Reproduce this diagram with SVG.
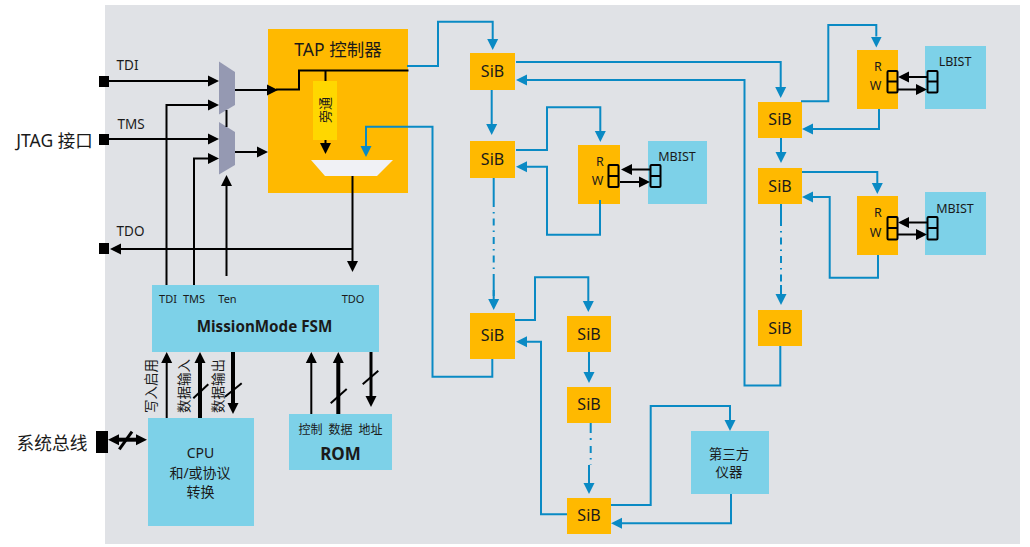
<svg xmlns="http://www.w3.org/2000/svg" width="1030" height="547" viewBox="0 0 1030 547">
  <defs>
    <style>
      text { font-family: "Noto Sans", "Noto Sans CJK SC", sans-serif; fill: #1a1a1a; text-anchor: middle; dominant-baseline: central; }
      .sib { fill: #FFB900; }
      .cyan { fill: #7DD1E8; }
      .mux { fill: #9599B2; }
      .port { stroke: #000; stroke-width: 2; }
      .b { fill: none; stroke: #0A8AC4; stroke-width: 2; }
      .k { fill: none; stroke: #000; stroke-width: 2; }
      .k3 { fill: none; stroke: #000; stroke-width: 3; }
      .k4 { fill: none; stroke: #000; stroke-width: 4; }
      .ab { marker-end: url(#arrowBlue); }
      .ak { marker-end: url(#arrowBlack); }
      .sl { font-size: 16px; }
      .pin { font-size: 11px; }
      .sig { font-size: 13.5px; }
      .rw { font-size: 12.5px; }
    </style>
    <marker id="arrowBlue" markerUnits="userSpaceOnUse" markerWidth="12" markerHeight="12" refX="0" refY="6" orient="auto"><path d="M0,0.5 L11,6 L0,11.5Z" fill="#0A8AC4"/></marker>
    <marker id="arrowBlack" markerUnits="userSpaceOnUse" markerWidth="12" markerHeight="12" refX="0" refY="6" orient="auto"><path d="M0,0.5 L11,6 L0,11.5Z" fill="#000"/></marker>
    <marker id="arrowBothEnds" markerUnits="userSpaceOnUse" markerWidth="12" markerHeight="12" refX="0" refY="6" orient="auto-start-reverse"><path d="M0,0.5 L11,6 L0,11.5Z" fill="#000"/></marker>
  </defs>

  <rect id="board" x="105" y="5" width="915" height="539" fill="#E0E2E6"/>

  <g id="jtag-pins">
    <text x="54.500" y="140" font-size="17.500">JTAG 接口</text>
    <rect x="99" y="76" width="10" height="11"/>
    <rect x="99" y="134" width="10" height="11"/>
    <rect x="99" y="243" width="10" height="11"/>
    <text x="127.500" y="65" class="sig">TDI</text>
    <text x="131" y="124" class="sig">TMS</text>
    <text x="130.500" y="231" class="sig">TDO</text>
  </g>

  <g id="tap-controller">
    <rect x="268" y="29" width="140" height="164" fill="#FFB900"/>
    <text x="338" y="49" font-size="17.500">TAP 控制器</text>
    <rect x="313" y="81" width="24" height="59" fill="#FFD700"/>
    <text transform="rotate(-90 325 110)" x="325" y="110" font-size="13">旁通</text>
    <polygon points="311,160 393,160 377,176 325,176" fill="#F0F1F5"/>
  </g>

  <g id="mux-upper"><polygon class="mux" points="219,61.500 235,72 235,105 219,114.500"/></g>
  <g id="mux-lower"><polygon class="mux" points="219,122 235,132 235,165 219,174.500"/></g>

  <g id="mission-fsm">
    <rect class="cyan" x="152" y="285" width="227" height="67"/>
    <text x="168" y="298.500" class="pin">TDI</text>
    <text x="194" y="298.500" class="pin">TMS</text>
    <text x="227.500" y="298.500" class="pin">Ten</text>
    <text x="353" y="298.500" class="pin">TDO</text>
    <text x="264.500" y="326" font-size="15.200" font-weight="700">MissionMode FSM</text>
  </g>

  <g id="cpu">
    <rect class="cyan" x="148" y="418" width="106" height="108"/>
    <text x="200.500" y="452" font-size="14">CPU</text>
    <text x="200" y="472" font-size="14">和/或协议</text>
    <text x="200.500" y="491" font-size="14">转换</text>
  </g>

  <g id="rom">
    <rect class="cyan" x="289" y="414" width="103" height="56"/>
    <text x="310.500" y="429" font-size="12">控制</text>
    <text x="340.500" y="429" font-size="12">数据</text>
    <text x="370.500" y="429" font-size="12">地址</text>
    <text x="340.500" y="453.500" font-size="17" font-weight="700">ROM</text>
  </g>

  <g id="bus-labels">
    <text transform="rotate(-90 151 386)" x="151" y="386" font-size="13.500">写入启用</text>
    <text transform="rotate(-90 184 386)" x="184" y="386" font-size="13.500">数据输入</text>
    <text transform="rotate(-90 218 386)" x="218" y="386" font-size="13.500">数据输出</text>
  </g>

  <g id="system-bus">
    <text x="52" y="442.500" font-size="17.700">系统总线</text>
    <rect x="96" y="431" width="12" height="22"/>
  </g>

  <g id="sib-1"><rect class="sib" x="470" y="53" width="45" height="37"/><text x="492.500" y="71" class="sl">SiB</text></g>
  <g id="sib-2"><rect class="sib" x="470" y="141" width="45" height="37"/><text x="492.500" y="159" class="sl">SiB</text></g>
  <g id="sib-3"><rect class="sib" x="470" y="313" width="45" height="46"/><text x="492.500" y="335" class="sl">SiB</text></g>
  <g id="sib-4"><rect class="sib" x="567" y="316" width="44" height="36"/><text x="589" y="334" class="sl">SiB</text></g>
  <g id="sib-5"><rect class="sib" x="567" y="387" width="44" height="36"/><text x="589" y="404" class="sl">SiB</text></g>
  <g id="sib-6"><rect class="sib" x="567" y="498" width="44" height="36"/><text x="589" y="515" class="sl">SiB</text></g>
  <g id="sib-7"><rect class="sib" x="758" y="102" width="44" height="36"/><text x="780" y="119" class="sl">SiB</text></g>
  <g id="sib-8"><rect class="sib" x="758" y="168" width="44" height="36"/><text x="780" y="186" class="sl">SiB</text></g>
  <g id="sib-9"><rect class="sib" x="758" y="310" width="44" height="36"/><text x="780" y="328" class="sl">SiB</text></g>

  <g id="rw-1">
    <rect class="sib" x="578" y="145" width="42" height="59"/>
    <text x="600" y="161" class="rw">R</text><text x="597.500" y="180" class="rw">W</text>
    <rect class="sib port" x="608.500" y="165" width="10" height="22" rx="1"/><path class="k" d="M608.500,176H618.500"/>
  </g>
  <g id="mbist-1">
    <rect class="cyan" x="648" y="141" width="59" height="63"/>
    <text x="677" y="156" class="rw">MBIST</text>
    <rect class="cyan port" x="650.500" y="165" width="10" height="22" rx="1"/><path class="k" d="M650.500,176H660.500"/>
  </g>
  <g id="rw-2">
    <rect class="sib" x="857" y="50" width="41" height="59"/>
    <text x="878" y="66.500" class="rw">R</text><text x="875.500" y="85.500" class="rw">W</text>
    <rect class="sib port" x="887.500" y="71" width="10" height="21.500" rx="1"/><path class="k" d="M887.500,81.500H897.500"/>
  </g>
  <g id="lbist">
    <rect class="cyan" x="925" y="46" width="61" height="63"/>
    <text x="955" y="61" class="rw">LBIST</text>
    <rect class="cyan port" x="927.500" y="71" width="10" height="21.500" rx="1"/><path class="k" d="M927.500,81.500H937.500"/>
  </g>
  <g id="rw-3">
    <rect class="sib" x="857" y="196" width="41" height="59"/>
    <text x="878" y="212.500" class="rw">R</text><text x="875.500" y="232" class="rw">W</text>
    <rect class="sib port" x="887.500" y="217" width="10" height="22.500" rx="1"/><path class="k" d="M887.500,228H897.500"/>
  </g>
  <g id="mbist-2">
    <rect class="cyan" x="925" y="192" width="61" height="63"/>
    <text x="955" y="208" class="rw">MBIST</text>
    <rect class="cyan port" x="927.500" y="217" width="10" height="22.500" rx="1"/><path class="k" d="M927.500,228H937.500"/>
  </g>
  <g id="third-party">
    <rect class="cyan" x="691" y="431" width="78" height="63"/>
    <text x="729" y="454" font-size="13.500">第三方</text>
    <text x="729" y="472" font-size="13.500">仪器</text>
  </g>

  <g id="connectors">
    <!-- JTAG inputs and mux selects -->
    <path class="k ak" d="M109,81H208"/>
    <path class="k ak" d="M166.500,285V105H208"/>
    <path class="k ak" d="M109,139H208"/>
    <path class="k ak" d="M194,285V158.500H208"/>
    <path class="k ak" d="M226.500,276V186"/>
    <path class="k" d="M226.500,110V127"/>
    <path class="k ak" d="M235,90H267"/>
    <path class="k" d="M276,89.500H299V70.500H408.500"/>
    <path class="k ak" d="M235,152H257"/>
    <!-- Bypass path and TDO -->
    <path class="k" d="M325.500,70.500V81"/>
    <path class="k ak" d="M325.500,140V143"/>
    <path class="k ak" d="M352.500,176V261"/>
    <path class="k ak" d="M352.500,249H121"/>
    <!-- CPU and ROM buses -->
    <path class="k ak" d="M166.700,418V363"/>
    <path class="k4 ak" d="M200,418V363"/>
    <path class="k" d="M193.300,398.300L208.300,384.300"/>
    <path class="k4 ak" d="M233,352V403"/>
    <path class="k" d="M225,396.700L241.700,383.300"/>
    <path class="k ak" d="M311.300,414V363"/>
    <path class="k4 ak" d="M338.300,414V363"/>
    <path class="k" d="M330.700,403.300L346.700,389"/>
    <path class="k3 ak" d="M371,352V396"/>
    <path class="k" d="M362.700,384.300L378.300,370.700"/>
    <path class="k4" style="marker-start:url(#arrowBothEnds);marker-end:url(#arrowBothEnds)" d="M119,439.700H136"/>
    <path class="k3" d="M119.300,449.300L132,431.700"/>
    <!-- Register ports -->
    <path class="k ak" d="M650.500,169.500H632"/>
    <path class="k ak" d="M620,182H639"/>
    <path class="k ak" d="M927.500,77H909"/>
    <path class="k ak" d="M898,89.500H916"/>
    <path class="k ak" d="M927.500,222.500H909"/>
    <path class="k ak" d="M898,234.500H916"/>
    <!-- Scan chain -->
    <path class="b ab" d="M407,66H438V21.700H492.700V39"/>
    <path class="b ab" d="M491.700,90V124"/>
    <path class="b ab" d="M516,62H780.700V87"/>
    <path class="b ab" d="M780.300,346V385.500H744.500V80H527"/>
    <path class="b ab" d="M516,150H547V107.300H600.300V131"/>
    <path class="b ab" d="M600,200V234.700H547V166.700H527"/>
    <path class="b" stroke-dasharray="29 5 1.500 5 7 5 1.500 5 7 5 1.500 5 7 5 1.500 5 22" d="M493.700,178V299"/>
    <path class="b ab" d="M493.700,290V299"/>
    <path class="b ab" d="M515,320H535V277.300H588.300V301"/>
    <path class="b ab" d="M492.300,359V376.700H432.500V126.700H366V146"/>
    <path class="b ab" d="M589,352V372"/>
    <path class="b" stroke-dasharray="10 5 2 6 7 5 1.500 5 1.500" d="M590.700,423V465"/>
    <path class="b ab" d="M589,465V483"/>
    <path class="b ab" d="M611,505H650.700V406H730V420"/>
    <path class="b ab" d="M731,494V523.300H622"/>
    <path class="b ab" d="M567,514.300H541V341.700H527"/>
    <path class="b ab" d="M801,101.300H828.300V25H876.300V36.500"/>
    <path class="b ab" d="M879,109V129H813"/>
    <path class="b ab" d="M781,138V152"/>
    <path class="b" stroke-dasharray="22 5 1.500 5 7 5 1.500 5 7 5 1.500 5 7 5 1.500 5 22" d="M781,204V294"/>
    <path class="b ab" d="M781,285V294"/>
    <path class="b ab" d="M802,172H877.300V183"/>
    <path class="b ab" d="M878,255V277.700H829.700V197H813"/>
  </g>
</svg>
